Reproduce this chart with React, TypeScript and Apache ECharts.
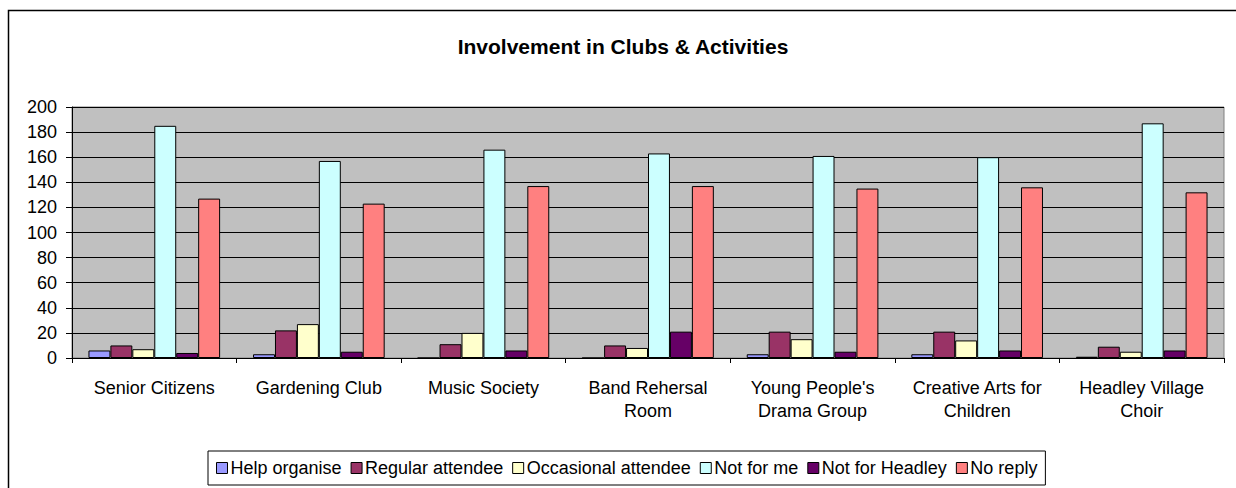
import React, { useEffect, useRef } from "react";
import * as echarts from "echarts";

const categories = [
  "Senior Citizens",
  "Gardening Club",
  "Music Society",
  "Band Rehersal\nRoom",
  "Young People's\nDrama Group",
  "Creative Arts for\nChildren",
  "Headley Village\nChoir",
];

const seriesNames = [
  "Help organise",
  "Regular attendee",
  "Occasional attendee",
  "Not for me",
  "Not for Headley",
  "No reply",
];

const helpOrganise = [6, 3, 0, 0, 3, 3, 1];
const regularAttendee = [10, 22, 11, 10, 21, 21, 9];
const occasionalAttendee = [7, 27, 20, 8, 15, 14, 5];
const notForMe = [185, 157, 166, 163, 161, 160, 187];
const notForHeadley = [4, 5, 6, 21, 5, 6, 6];
const noReply = [127, 123, 137, 137, 135, 136, 132];

const yTicks = [0, 20, 40, 60, 80, 100, 120, 140, 160, 180, 200];

const seriesData = [helpOrganise, regularAttendee, occasionalAttendee, notForMe, notForHeadley, noReply];
const colors = ["#9999FF", "#993366", "#FFFFCC", "#CCFFFF", "#660066", "#FF8080"];

const FONT = "'Liberation Sans', Arial, sans-serif";

export default function App() {
  const ref = useRef<HTMLDivElement>(null);
  useEffect(() => {
    if (!ref.current) return;
    const chart = echarts.init(ref.current, undefined, { renderer: "svg" });
    chart.setOption({
      animation: false,
      backgroundColor: "#FFFFFF",
      textStyle: { fontFamily: FONT },
      title: {
        text: "Involvement in Clubs & Activities",
        left: 618,
        textAlign: "center",
        top: 31,
        textStyle: { fontFamily: FONT, fontSize: 21, fontWeight: "bold", color: "#000" },
      },
      graphic: [
        {
          type: "rect",
          shape: { x: 8.5, y: 10.5, width: 1260, height: 500 },
          style: { fill: "none", stroke: "#000", lineWidth: 1.5 },
          silent: true,
        },
      ],
      legend: {
        left: 208,
        top: 451,
        orient: "horizontal",
        data: seriesNames,
        icon: "rect",
        itemWidth: 11,
        itemHeight: 11,
        itemGap: 9,
        padding: [8, 8, 8, 8],
        borderColor: "#000",
        borderWidth: 1,
        borderRadius: 0,
        textStyle: { fontFamily: FONT, fontSize: 18, color: "#000", padding: [0, 0, 0, -2] },
        itemStyle: { borderColor: "#000", borderWidth: 1 },
      },
      grid: {
        left: 72,
        top: 107,
        width: 1152,
        height: 251,
        show: true,
        backgroundColor: "#C0C0C0",
        borderColor: "#808080",
        borderWidth: 1,
      },
      xAxis: {
        type: "category",
        data: categories,
        axisLine: { show: true, lineStyle: { color: "#000", width: 1 } },
        axisTick: { show: true, alignWithLabel: false, length: 5, lineStyle: { color: "#000" } },
        axisLabel: {
          interval: 0,
          margin: 18,
          fontFamily: FONT,
          fontSize: 18,
          lineHeight: 23,
          color: "#000",
        },
      },
      yAxis: {
        type: "value",
        min: 0,
        max: 200,
        interval: 20,
        axisLine: { show: true, lineStyle: { color: "#000", width: 1 } },
        axisTick: { show: true, length: 6, lineStyle: { color: "#000" } },
        axisLabel: {
          margin: 15,
          fontFamily: FONT,
          fontSize: 18,
          color: "#000",
          formatter: (v: number) => (yTicks.includes(v) ? String(v) : ""),
        },
        splitLine: { show: true, lineStyle: { color: "#000", width: 1 } },
      },
      series: seriesNames.map((name, i) => ({
        name,
        type: "bar",
        data: seriesData[i],
        barGap: "0%",
        barCategoryGap: "20%",
        itemStyle: { color: colors[i], borderColor: "#000", borderWidth: 1 },
      })),
    });
    return () => chart.dispose();
  }, []);
  return (
    <div
      ref={ref}
      style={{ position: "fixed", left: 0, top: 0, width: 1236, height: 488 }}
    />
  );
}
